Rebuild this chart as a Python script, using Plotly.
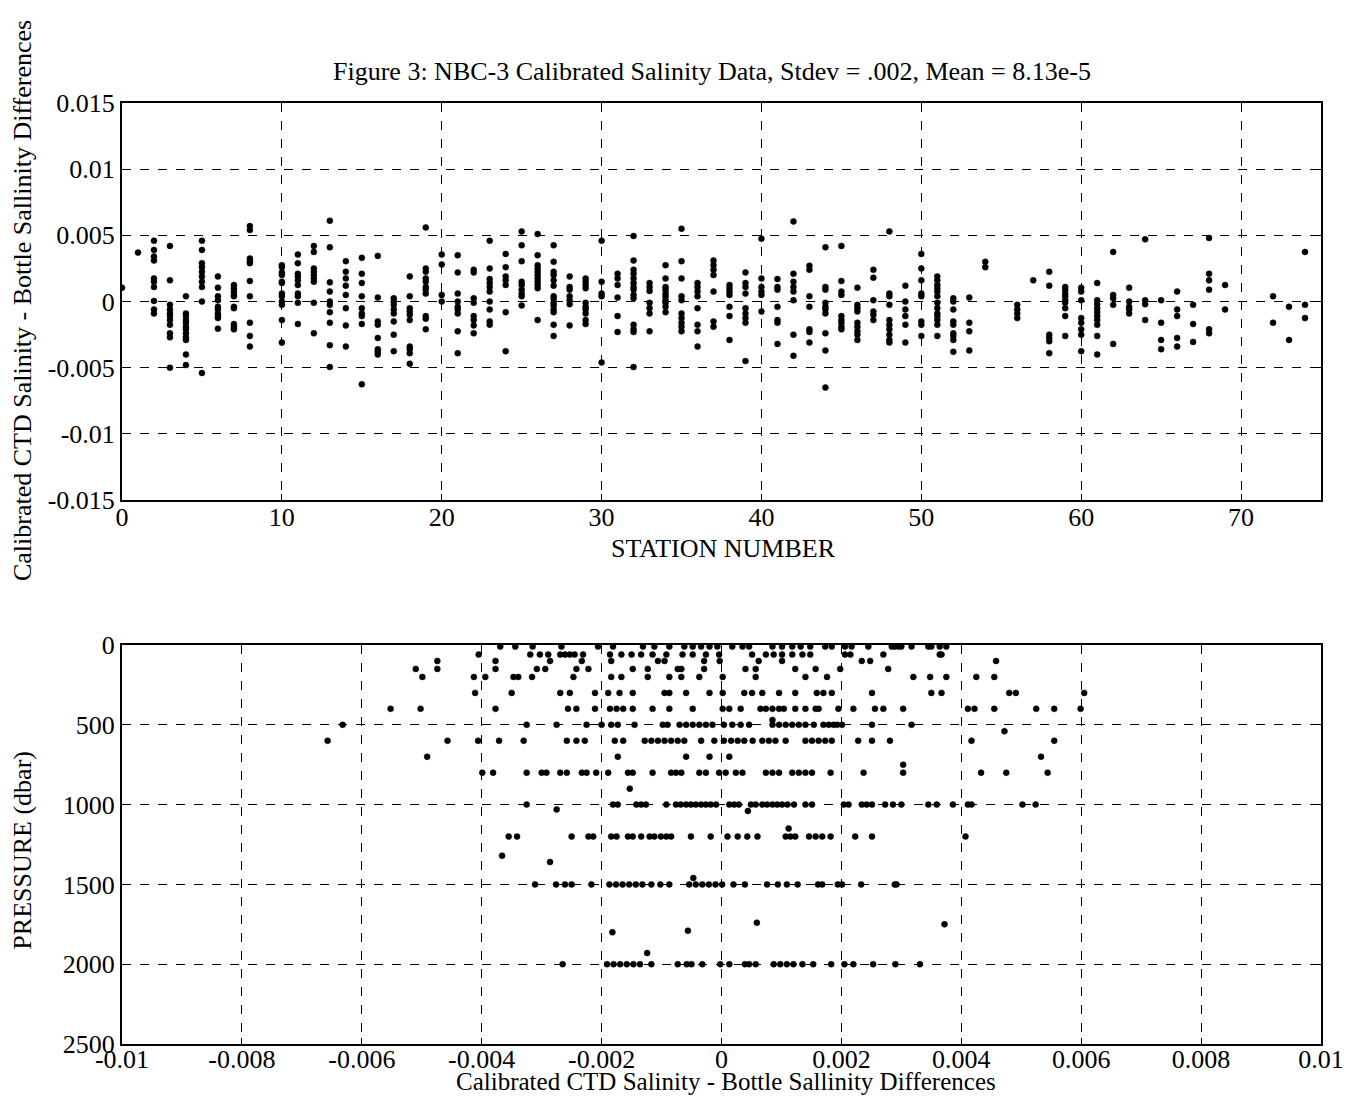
from plotly.subplots import make_subplots
import plotly.graph_objects as go

# salinity differences are kept in units of 1e-3
stations = [0, 1, 2, 3, 4, 5, 6, 7, 8, 10, 11, 12, 13, 14, 15, 16, 17, 18, 19, 20,
            21, 22, 23, 24, 25, 26, 27, 28, 29, 30, 31, 32, 33, 34, 35, 36, 37, 38, 39, 40,
            41, 42, 43, 44, 45, 46, 47, 48, 49, 50, 51, 52, 53, 54, 56, 57, 58, 59, 60, 61,
            62, 63, 64, 65, 66, 67, 68, 69, 72, 73, 74]

station_diffs = [
    [1.05],
    [3.7],
    [4.6, 3.9, 3.4, 3.1, 1.75, 1.5, 1.1, 0.05, -0.6, -0.9],
    [4.2, 1.6, -0.25, -0.6, -0.9, -1.1, -1.4, -1.75, -2.4, -2.7, -5.0],
    [0.4, -0.9, -1.1, -1.4, -1.6, -1.9, -2.1, -2.4, -2.7, -2.9, -4.0, -4.8],
    [4.6, 3.9, 2.9, 2.6, 2.25, 1.9, 1.5, 1.1, 0.0, -5.4],
    [1.9, 1.05, 0.4, 0.1, -0.4, -0.6, -0.9, -1.1, -1.25, -2.05],
    [1.25, 1.0, 0.75, 0.5, 0.4, -0.4, -0.5, -1.7, -1.9, -2.1],
    [5.7, 5.4, 3.25, 3.05, 2.9, 1.55, 0.4, -1.6, -2.6, -3.4],
    [2.75, 2.6, 2.2, 2.0, 1.5, 1.4, 0.6, 0.4, 0.0, -0.25, -1.4, -3.1],
    [3.55, 2.9, 2.1, 1.9, 1.6, 1.25, 0.6, 0.4, -0.1, -1.7],
    [4.2, 3.75, 2.5, 2.25, 2.0, 1.75, 1.5, -0.1, -2.4],
    [6.1, 4.1, 1.45, 0.75, 0.0, -0.25, -0.8, -1.6, -3.3, -4.95],
    [3.05, 2.25, 1.75, 1.2, 0.5, -0.5, -1.8, -3.4],
    [3.3, 2.1, 1.4, 0.4, -0.5, -0.9, -1.1, -1.7, -6.25],
    [3.45, 0.3, -1.5, -1.75, -2.75, -3.6, -3.8, -4.0],
    [0.25, 0.0, -0.25, -0.6, -0.9, -1.5, -2.5, -3.75],
    [1.9, 0.4, -0.5, -0.75, -1.0, -1.4, -3.4, -3.6, -3.9, -4.7],
    [5.6, 2.5, 2.25, 1.75, 1.5, 1.1, 0.9, 0.6, -1.1, -1.3, -2.1],
    [3.55, 2.8, 0.5, 0.0],
    [3.5, 2.2, 0.6, 0.0, -0.4, -0.6, -0.9, -2.25, -3.9],
    [2.4, 2.2, 0.25, -0.1, -1.1, -1.4, -1.8, -2.4],
    [4.6, 2.5, 1.7, 1.4, 1.1, 0.75, 0.0, -0.6, -1.5, -1.75],
    [3.6, 2.6, 1.9, 1.6, 1.25, -0.8, -3.75],
    [5.3, 4.25, 3.05, 1.5, 1.25, 0.9, 0.6, 0.4, -0.3],
    [5.1, 3.5, 2.75, 2.5, 2.25, 2.0, 1.75, 1.5, 1.25, 1.0, -1.4],
    [4.25, 3.0, 2.25, 2.0, 1.6, 1.2, 0.4, 0.2, -0.1, -0.3, -0.6, -0.8, -1.75, -2.6],
    [1.9, 1.1, 0.9, 0.4, 0.1, -0.2, -1.8],
    [1.75, 1.5, 1.25, 1.0, -0.1, -0.4, -0.6, -0.9, -1.4, -1.7],
    [4.6, 1.5, 0.6, 0.4, -4.6],
    [2.1, 1.75, 1.25, 0.3, -1.1, -2.3],
    [4.95, 3.1, 2.4, 2.1, 1.75, 1.4, 1.1, 0.9, 0.5, 0.25, -1.75, -2.1, -2.3, -4.95],
    [1.4, 1.1, 0.8, -0.1, -0.5, -0.9, -2.25],
    [2.75, 1.75, 1.1, 0.9, 0.6, 0.4, 0.1, -0.1, -0.4, -0.8],
    [5.5, 3.05, 1.75, 0.4, 0.1, -0.9, -1.25, -1.6, -1.9, -2.25],
    [1.4, 1.1, 0.75, 0.4, -0.5, -1.75, -2.25, -3.4],
    [3.1, 2.75, 2.4, 2.0, 0.75, -1.5, -1.9],
    [1.25, 1.0, 0.75, 0.5, -0.4, -1.1, -2.9],
    [2.2, 1.4, 1.1, 0.6, -0.5, -0.9, -1.25, -1.6, -4.5],
    [4.75, 1.75, 1.1, 0.75, 0.5, -0.75],
    [1.7, 1.1, 0.9, -0.4, -1.4, -1.6, -3.2],
    [6.05, 2.1, 1.5, 1.1, 0.75, 0.1, -2.5, -4.1],
    [2.7, 2.4, 0.4, -0.4, -2.1, -2.3, -3.1],
    [4.1, 1.1, 0.9, -0.1, -0.4, -0.6, -0.9, -2.4, -3.7, -6.5],
    [4.2, 1.55, 0.75, 0.5, -1.1, -1.4, -1.6, -1.9, -2.1],
    [1.05, -0.25, -0.5, -0.75, -1.6, -1.9, -2.25, -2.5, -2.9],
    [2.4, 1.8, 0.1, -0.75, -1.0, -1.4],
    [5.3, 0.6, 0.4, -0.25, -1.4, -1.75, -2.1, -2.5, -2.9, -3.1],
    [1.2, 0.0, -0.6, -1.1, -1.75, -3.1],
    [3.6, 2.5, 1.6, 0.6, 0.4, -1.5, -1.75, -2.6],
    [1.9, 1.6, 1.25, 1.0, 0.75, 0.4, -0.1, -0.5, -0.9, -1.1, -1.4, -1.75, -2.6],
    [0.25, 0.0, -0.6, -1.5, -1.75, -2.4, -2.6, -2.9, -3.8],
    [0.3, -1.6, -2.25, -3.7],
    [3.0, 2.6],
    [-0.25, -0.6, -0.9, -1.25],
    [1.6],
    [2.25, 1.2, -2.5, -2.75, -3.0, -3.9],
    [1.1, 0.9, 0.6, 0.4, 0.1, -0.1, -0.5, -1.1, -2.6],
    [1.05, 0.75, 0.1, -1.25, -1.6, -2.1, -2.5, -3.75],
    [1.4, 0.1, -0.2, -0.5, -0.8, -1.1, -1.4, -1.75, -2.6, -4.0],
    [3.75, 0.5, 0.25, -0.25, -3.2],
    [1.05, 0.0, -0.4, -0.6, -0.9],
    [4.7, 0.1, -0.2, -1.4],
    [0.1, -1.6, -2.9, -3.6],
    [0.75, -0.6, -1.1, -2.75, -3.4],
    [-0.25, -1.7, -3.05],
    [4.8, 2.1, 1.6, 0.9, -2.1, -2.4],
    [1.25, -0.6],
    [0.4, -1.6],
    [-0.4, -2.9],
    [3.75, -0.25, -1.25],
]

# bottom panel: bottle depths (dbar) and the differences found at each depth
pressure_levels = [10, 60, 100, 150, 200, 300, 400, 500, 600, 700, 800, 1000, 1200, 1500, 2000]

level_diffs = [
    [-3.69, -3.44, -3.15, -2.67, -2.06, -1.81, -1.31, -1.12, -0.87, -0.62, -0.48, -0.34, -0.2,
     -0.07, 0.18, 0.35, 0.46, 0.85, 1.01, 1.18, 1.32, 1.48, 1.73, 1.84, 2.06, 2.17, 2.45,
     2.84, 2.89, 2.95, 3.0, 3.17, 3.45, 3.5, 3.64, 3.75],
    [-4.05, -3.19, -3.03, -2.89, -2.69, -2.61, -2.53, -2.45, -2.31, -1.86, -1.67, -1.5, -1.34,
     -1.15, -0.92, -0.65, -0.48, -0.26, -0.04, 0.51, 0.74, 0.87, 1.01, 1.18, 1.35, 1.48,
     2.06, 2.15, 2.7, 3.64, 3.67],
    [-4.74, -3.77, -2.86, -2.33, -1.84, -1.06, -0.95, -0.29, -0.03, 0.62, 1.01, 2.34, 2.48, 4.58],
    [-5.1, -4.74, -3.77, -3.08, -2.94, -2.42, -2.22, -1.48, -1.23, -0.73, -0.67, -0.29, 0.4,
     0.57, 1.23, 1.57, 1.98, 2.78],
    [-4.99, -4.13, -3.94, -3.47, -3.39, -3.16, -2.47, -1.84, -1.67, -1.23, -0.87, -0.67,
     -0.37, 0.02, 0.57, 1.4, 1.76, 3.2, 3.48, 3.75, 4.25, 4.55],
    [-4.11, -3.5, -2.69, -2.53, -2.11, -1.89, -1.7, -1.48, -0.95, -0.87, -0.59, -0.2, 0.02,
     0.38, 0.51, 0.68, 0.96, 1.23, 1.59, 1.7, 1.84, 2.51, 3.5, 3.67, 4.8, 4.91, 6.05],
    [-5.52, -5.02, -3.77, -2.56, -2.42, -2.11, -1.86, -1.75, -1.64, -1.48, -1.15, -0.87,
     -0.48, 0.02, 0.13, 0.32, 0.65, 0.74, 0.85, 0.96, 1.04, 1.23, 1.4, 1.57, 1.62, 1.95,
     2.2, 2.56, 2.7, 3.03, 4.11, 4.22, 4.55, 5.25, 5.55, 5.99],
    [-6.32, -3.25, -2.75, -2.25, -2.0, -1.84, -1.73, -1.45, -0.98, -0.9, -0.7, -0.59, -0.48,
     -0.37, -0.26, -0.15, 0.04, 0.18, 0.32, 0.46, 0.85, 0.96, 1.07, 1.18, 1.29, 1.4, 1.54,
     1.7, 1.79, 1.87, 1.93, 2.01, 2.51, 3.17],
    [-6.57, -4.57, -4.06, -3.71, -3.3, -2.58, -2.42, -2.28, -1.78, -1.64, -1.28, -1.17,
     -1.06, -0.95, -0.84, -0.73, -0.62, -0.34, -0.12, 0.04, 0.16, 0.27, 0.38, 0.52, 0.68,
     0.79, 0.9, 1.07, 1.4, 1.51, 1.62, 1.73, 1.84, 2.28, 2.51, 2.81, 4.17, 5.55],
    [-4.91, -1.73, -0.59, -0.2, 0.13, 5.33],
    [-3.99, -3.81, -3.25, -3.0, -2.92, -2.69, -2.58, -2.33, -2.25, -2.09, -1.89, -1.56,
     -1.48, -1.15, -0.84, -0.76, -0.67, -0.37, -0.26, -0.04, 0.07, 0.24, 0.35, 0.74, 0.85,
     0.96, 1.18, 1.29, 1.4, 1.51, 1.82, 2.37, 3.03, 4.33, 4.75, 5.44],
    [-3.25, -1.81, -1.73, -1.42, -1.34, -1.26, -0.92, -0.76, -0.68, -0.59, -0.51, -0.43,
     -0.34, -0.26, -0.18, -0.09, 0.13, 0.21, 0.29, 0.49, 0.57, 0.68, 0.76, 0.85, 0.93,
     1.01, 1.1, 1.21, 1.4, 1.51, 2.04, 2.12, 2.34, 2.42, 2.51, 2.73, 2.86, 3.0, 3.45,
     3.59, 3.86, 4.11, 4.17, 5.02, 5.24],
    [-3.55, -3.41, -2.5, -2.22, -2.14, -1.84, -1.75, -1.56, -1.48, -1.34, -1.2, -1.12,
     -1.01, -0.92, -0.84, -0.51, -0.18, 0.1, 0.27, 0.43, 0.6, 1.07, 1.15, 1.23, 1.46,
     1.57, 1.68, 1.82, 2.23, 2.51, 4.07],
    [-3.11, -2.76, -2.61, -2.5, -2.17, -1.87, -1.76, -1.65, -1.54, -1.43, -1.32, -1.17,
     -1.02, -0.87, -0.54, -0.43, -0.32, -0.21, -0.1, 0.01, 0.2, 0.39, 0.76, 0.94, 1.09,
     1.27, 1.61, 1.68, 1.94, 2.01, 2.33, 2.89, 2.92],
    [-2.65, -1.91, -1.8, -1.69, -1.58, -1.47, -1.36, -1.17, -0.73, -0.58, -0.5, -0.32,
     -0.02, 0.13, 0.39, 0.46, 0.57, 0.87, 0.98, 1.09, 1.2, 1.35, 1.53, 1.83, 2.05, 2.2,
     2.53, 2.9, 3.31],
]

# odd bottles that sit off the standard depths
extra_diffs = [3.03, 0.85, 4.72, -1.53, -2.75, 0.44, 1.12, -3.66, -2.86, -0.47, 0.59, 3.72,
               -0.56, -1.82, -1.24]
extra_pressures = [750, 470, 540, 900, 1030, 1040, 1150, 1320, 1360, 1460, 1740, 1750,
                   1790, 1800, 1930]

top_x, top_y = [], []
for st, vals in zip(stations, station_diffs):
    for v in vals:
        top_x.append(st)
        top_y.append(v * 1e-3)

bot_x, bot_y = [], []
for p, vals in zip(pressure_levels, level_diffs):
    for v in vals:
        bot_x.append(v * 1e-3)
        bot_y.append(p)
for v, p in zip(extra_diffs, extra_pressures):
    bot_x.append(v * 1e-3)
    bot_y.append(p)

FONT = 'Liberation Serif'

fig = make_subplots(rows=2, cols=1)
marker = dict(color='black', size=6, symbol='circle', line=dict(color='black', width=0.5))

fig.add_trace(go.Scatter(x=top_x, y=top_y, mode='markers', marker=marker, showlegend=False), row=1, col=1)
fig.add_trace(go.Scatter(x=bot_x, y=bot_y, mode='markers', marker=marker, showlegend=False), row=2, col=1)

# automargin off: the template turns it on and it shrinks the plot to fit the last tick label
axis_style = dict(showline=True, linecolor='black', linewidth=2, mirror='ticks',
                  showgrid=True, gridcolor='black', gridwidth=1, griddash='dash',
                  zeroline=False, ticks='inside', ticklen=6, tickcolor='black',
                  automargin=False,
                  tickfont=dict(family=FONT, size=26, color='black'))

fig.update_xaxes(range=[0, 75], tickvals=[0, 10, 20, 30, 40, 50, 60, 70],
                 ticktext=['0', '10', '20', '30', '40', '50', '60', '70'],
                 ticklabelstandoff=-7, **axis_style, row=1, col=1)
fig.update_yaxes(range=[-0.015, 0.015], domain=[0.578, 1.0],
                 tickvals=[-0.015, -0.01, -0.005, 0, 0.005, 0.01, 0.015],
                 ticktext=['-0.015', '-0.01', '-0.005', '0', '0.005', '0.01', '0.015'],
                 **axis_style, row=1, col=1)
fig.update_xaxes(range=[-0.01, 0.01],
                 tickvals=[-0.01, -0.008, -0.006, -0.004, -0.002, 0, 0.002, 0.004, 0.006, 0.008, 0.01],
                 ticktext=['-0.01', '-0.008', '-0.006', '-0.004', '-0.002', '0',
                           '0.002', '0.004', '0.006', '0.008', '0.01'],
                 ticklabelstandoff=-9, **axis_style, row=2, col=1)
fig.update_yaxes(range=[2500, 0], domain=[0.0, 0.424], tickvals=[0, 500, 1000, 1500, 2000, 2500],
                 ticktext=['0', '500', '1000', '1500', '2000', '2500'], **axis_style, row=2, col=1)

text_font = dict(family=FONT, size=26, color='black')
fig.add_annotation(text='Figure 3: NBC-3 Calibrated Salinity Data, Stdev = .002, Mean = 8.13e-5',
                   xref='paper', yref='paper', x=0.492, y=1.033, showarrow=False,
                   xanchor='center', yanchor='middle', font=text_font)
fig.add_annotation(text='STATION NUMBER', xref='paper', yref='paper', x=0.502, y=0.527,
                   showarrow=False, xanchor='center', yanchor='middle', font=text_font)
fig.add_annotation(text='Calibrated CTD Salinity - Bottle Sallinity Differences',
                   xref='paper', yref='paper', x=0.504, y=-0.040, showarrow=False,
                   xanchor='center', yanchor='middle', font=dict(family=FONT, size=25, color='black'))
fig.add_annotation(text='Calibrated CTD Salinity - Bottle Sallinity Differences',
                   xref='paper', yref='paper', x=-0.083, y=0.79, showarrow=False, textangle=-90,
                   xanchor='center', yanchor='middle', font=text_font)
fig.add_annotation(text='PRESSURE (dbar)', xref='paper', yref='paper', x=-0.083, y=0.206,
                   showarrow=False, textangle=-90, xanchor='center', yanchor='middle', font=text_font)

# page body keeps its 8px margin, so the figure is sized to fit the window exactly;
# a little extra right margin leaves room for the last "0.01" tick label
fig.update_layout(
    width=1336, height=1089,
    margin=dict(l=114, r=23, t=95, b=53),
    plot_bgcolor='white',
    paper_bgcolor='white',
    showlegend=False,
)

fig.write_html('out.html', config={'displayModeBar': False})
